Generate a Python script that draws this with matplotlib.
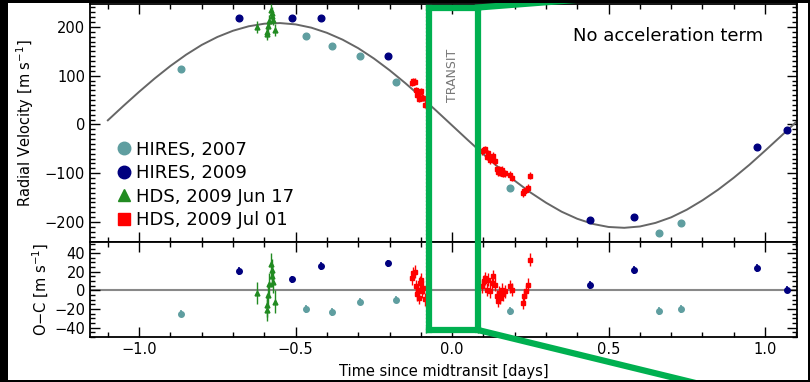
import matplotlib
matplotlib.use("Agg")
import matplotlib.pyplot as plt
from matplotlib.patches import Rectangle
from matplotlib.lines import Line2D
from matplotlib.ticker import MultipleLocator

plt.rcParams['font.family'] = ['DejaVu Sans']

# ---------------- data ----------------
# model curve
model_t = [-1.10, -1.05, -1.00, -0.95, -0.90, -0.85, -0.80, -0.75, -0.70, -0.65, -0.60,
           -0.55, -0.50, -0.45, -0.40, -0.35, -0.30, -0.25, -0.20, -0.15, -0.10, -0.05,
           0.00, 0.05, 0.10, 0.15, 0.20, 0.25, 0.30, 0.35, 0.40, 0.45, 0.50,
           0.55, 0.60, 0.65, 0.70, 0.75, 0.80, 0.85, 0.90, 0.95, 1.00, 1.05, 1.10]
model_rv = [8.5, 38.2, 67.0, 94.5, 120.0, 143.0, 163.1, 179.4, 192.2, 201.3, 206.6,
            207.9, 205.2, 198.5, 187.9, 173.9, 156.4, 135.3, 111.3, 85.0, 57.0, 27.8,
            -2.0, -31.8, -61.0, -89.0, -115.3, -139.3, -160.4, -178.9, -193.4, -204.0, -210.2,
            -211.9, -209.2, -201.8, -190.4, -174.7, -155.5, -133.7, -109.2, -82.6, -53.8, -24.4, 5.5]

hires07_t = [-0.865, -0.466, -0.385, -0.295, -0.180, 0.184, 0.661, 0.731]
hires07_rv = [113, 181, 160, 140, 88, -131, -223, -203]
hires07_oc = [-25, -20, -23, -12, -10, -22, -22, -20]
hires07_err = [4, 4, 4, 4, 4, 4, 4, 4]

hires09_t = [-0.682, -0.512, -0.420, -0.204, 0.440, 0.582, 0.973, 1.070]
hires09_rv = [219, 218, 218, 140, -196, -189, -46, -11]
hires09_oc = [21, 12, 26, 29, 6, 22, 24, 1]
hires09_err = [4, 4, 4, 4, 4, 4, 4, 4]

hds0617_t = [-0.625, -0.593, -0.590, -0.587, -0.584, -0.580, -0.577, -0.574, -0.571, -0.567]
hds0617_rv = [200, 185, 190, 201, 213, 234, 222, 228, 215, 194]
hds0617_oc = [-3, -21, -16, -5, 7, 28, 16, 22, 9, -12]
hds0617_err = [12, 12, 12, 12, 12, 12, 12, 12, 12, 12]

hds0701_t = [-0.127, -0.124, -0.118, -0.115, -0.113, -0.110, -0.105, -0.102, -0.099, -0.097,
             -0.092, -0.088,
             0.097, 0.101, 0.105, 0.111, 0.116, 0.121, 0.127, 0.132, 0.137, 0.143, 0.146,
             0.150, 0.154, 0.159, 0.164, 0.169, 0.185, 0.191, 0.226, 0.231, 0.236, 0.242, 0.248]
hds0701_rv = [85.6, 89.2, 87.6, 70.1, 60.3, 63.8, 52.1, 66.2, 68.1, 54.6, 55.1, 40.6,
              -55.0, -52.4, -50.6, -66.3, -58.6, -73.7, -68.3, -64.2, -75.6, -91.2, -98.2,
              -91.6, -98.9, -93.0, -100.8, -100.0, -103.2, -109.7, -141.1, -136.5, -133.6, -129.3, -105.4]
hds0701_oc = [13.3, 18.5, 20.3, 4.5, -4.2, 1.0, -7.8, 8.0, 11.6, -0.7, 2.7, -9.5,
              4.5, 9.8, 13.3, 1.0, 11.6, -0.7, 8.1, 15.0, 6.3, -6.0, -11.3,
              -2.5, -7.7, 1.0, -4.2, -0.7, 4.5, 1.0, -13.0, -6.0, -0.7, 6.3, 33.0]
hds0701_err = [7] * len(hds0701_t)

transit_edges = [-0.083, 0.083]

labels = ["HIRES, 2007", "HIRES, 2009", "HDS, 2009 Jun 17", "HDS, 2009 Jul 01"]
xticks = [-1.0, -0.5, 0.0, 0.5, 1.0]
rv_ticks = [-200, -100, 0, 100, 200]
oc_ticks = [-40, -20, 0, 20, 40]

c07 = '#5f9ea0'
c09 = '#00007f'
cjun = '#228b22'
cjul = '#ff0000'
cbox = '#00b050'

W, H = 810, 382
fig = plt.figure(figsize=(W / 100, H / 100), dpi=100)
fig.patch.set_facecolor('white')


def fx(px):
    return px / W


def fy(py):
    return 1 - py / H


L, R = 90, 797
T1, B1, B2 = 4, 242, 337
ax1 = fig.add_axes([fx(L), fy(B1), (R - L) / W, (B1 - T1) / H])
ax2 = fig.add_axes([fx(L), fy(B2), (R - L) / W, (B2 - B1) / H], sharex=ax1)

xlim = (-1.157, 1.102)

# ---- top panel ----
ax1.plot(model_t, model_rv, color='#666666', lw=1.4, zorder=2)
ax1.errorbar(hires07_t, hires07_rv, yerr=hires07_err, fmt='o', color=c07, ms=4.8, elinewidth=1, capsize=0, zorder=3)
ax1.errorbar(hires09_t, hires09_rv, yerr=hires09_err, fmt='o', color=c09, ms=4.8, elinewidth=1, capsize=0, zorder=3)
ax1.errorbar(hds0617_t, hds0617_rv, yerr=hds0617_err, fmt='^', color=cjun, ms=3.5, elinewidth=1, capsize=0, zorder=3)
ax1.errorbar(hds0701_t, hds0701_rv, yerr=hds0701_err, fmt='s', color=cjul, ms=3, elinewidth=1, capsize=0, zorder=3)
for e in transit_edges:
    ax1.axvline(e, color='#7aa88a', ls=':', lw=1, zorder=1)
ax1.text(0.0, 100, 'TRANSIT', rotation=90, ha='center', va='center', color='#777777', fontsize=9)
ax1.text(0.69, 182, 'No acceleration term', ha='center', va='center', fontsize=13, color='black')
ax1.set_ylim(-241, 247)
ax1.set_xlim(*xlim)
ax1.set_yticks(rv_ticks)
ax1.yaxis.set_minor_locator(MultipleLocator(10))
ax1.set_ylabel('Radial Velocity [m s$^{-1}$]', fontsize=10.5, labelpad=6)
plt.setp(ax1.get_xticklabels(), visible=False)

handles = [
    Line2D([], [], marker='o', ls='none', color=c07, ms=9),
    Line2D([], [], marker='o', ls='none', color=c09, ms=9),
    Line2D([], [], marker='^', ls='none', color=cjun, ms=9),
    Line2D([], [], marker='s', ls='none', color=cjul, ms=8),
]
ax1.legend(handles, labels, loc='lower left', bbox_to_anchor=(0.02, 0.0), frameon=False,
           fontsize=13, handlelength=0.8, handletextpad=0.25, labelspacing=0.31, borderaxespad=0.3)

# ---- bottom panel ----
ax2.axhline(0, color='#888888', lw=1.5, zorder=1)
ax2.errorbar(hires07_t, hires07_oc, yerr=hires07_err, fmt='o', color=c07, ms=4, elinewidth=1.2, capsize=0, zorder=3)
ax2.errorbar(hires09_t, hires09_oc, yerr=hires09_err, fmt='o', color=c09, ms=4, elinewidth=1.2, capsize=0, zorder=3)
ax2.errorbar(hds0617_t, hds0617_oc, yerr=hds0617_err, fmt='^', color=cjun, ms=3.5, elinewidth=1, capsize=0, zorder=3)
ax2.errorbar(hds0701_t, hds0701_oc, yerr=hds0701_err, fmt='s', color=cjul, ms=3, elinewidth=1, capsize=0, zorder=3)
for e in transit_edges:
    ax2.axvline(e, color='#7aa88a', ls=':', lw=1, zorder=1)
ax2.set_ylim(-50, 52)
ax2.set_yticks(oc_ticks)
ax2.yaxis.set_minor_locator(MultipleLocator(5))
ax2.set_xticks(xticks)
ax2.set_xticklabels([f"{v:.1f}".replace('-', '\u2212') for v in xticks])
ax2.set_ylabel('O\u2212C [m s$^{-1}$]', fontsize=10.5, labelpad=2)
ax2.set_xlabel('Time since midtransit [days]', fontsize=10.5, labelpad=5)

for ax in (ax1, ax2):
    ax.xaxis.set_minor_locator(MultipleLocator(0.1))
    ax.set_xticks(xticks)
    ax.tick_params(which='both', direction='in', top=True, right=True, labelsize=10.5, width=1)
    ax.tick_params(which='major', length=7)
    ax.tick_params(which='minor', length=3.5)
    for s in ax.spines.values():
        s.set_linewidth(1.3)

# ---- green zoom box and lines (figure pixels) ----
def gline(x0, y0, x1, y1):
    fig.add_artist(Line2D([fx(x0), fx(x1)], [fy(y0), fy(y1)], transform=fig.transFigure,
                          color=cbox, lw=4.5, solid_capstyle='projecting', zorder=20))

gline(429, 7.5, 478, 7.5)
gline(429, 7.5, 429, 330)
gline(478, 7.5, 478, 330)
gline(429, 330, 478, 330)
gline(478, 7.5, 640, -5)
gline(478, 330, 720, 389)

# ---- black screenshot borders ----
for (x0, y0, x1, y1) in [(0, 0, 8, H), (0, 0, W, 3), (0, 380, W, H), (808, 0, W, H)]:
    fig.add_artist(Rectangle((fx(x0), fy(y1)), (x1 - x0) / W, (y1 - y0) / H, transform=fig.transFigure,
                             facecolor='black', edgecolor='none', zorder=30))

fig.savefig('out.png', dpi=100)
